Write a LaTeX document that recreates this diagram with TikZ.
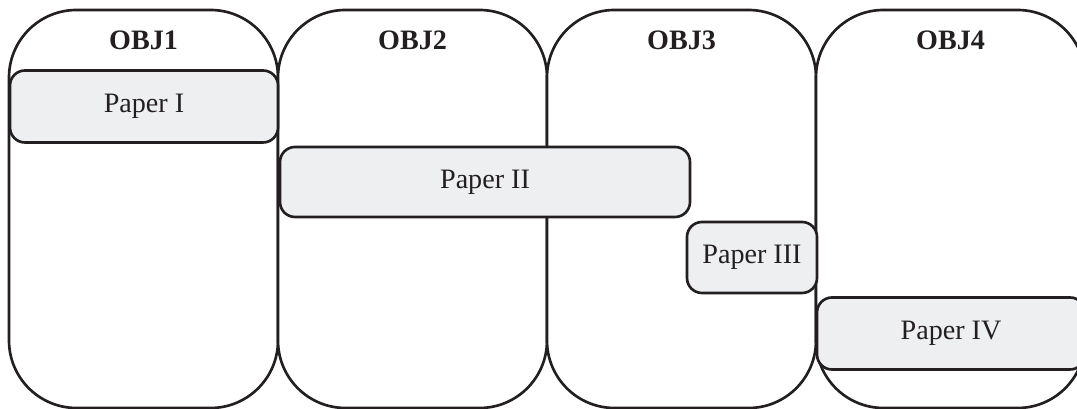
\documentclass[tikz,border=0pt]{standalone}
\usepackage{fontspec}
\setmainfont{Liberation Serif}
\usetikzlibrary{positioning}
\definecolor{inkline}{RGB}{35,31,32}
\definecolor{paperfill}{RGB}{238,239,241}

\tikzset{
  objcol/.style={draw=inkline,line width=1.5pt,rounded corners=1.35cm,
    minimum width=5.38cm,minimum height=7.96cm,outer sep=0pt,fill=white},
  objtitle/.style={font=\fontsize{16}{18}\selectfont\bfseries,text=inkline},
  paperbox/.style={draw=inkline,line width=1.5pt,rounded corners=0.3cm,
    fill=paperfill,minimum height=1.44cm,outer sep=0pt,inner sep=2pt,
    font=\fontsize{16}{18}\selectfont,text=inkline}
}

\begin{document}
\begin{tikzpicture}
  \useasboundingbox (0,0) rectangle (21.54,8.18);
  % objective columns
  \node[objcol] (col1) at (2.87,4.0) {};
  \node[objcol,right=0pt of col1] (col2) {};
  \node[objcol,right=0pt of col2] (col3) {};
  \node[objcol,right=0pt of col3] (col4) {};

  \node[objtitle] (obj1) at (2.87,7.38) {OBJ1};
  \node[objtitle] (obj2) at (8.25,7.38) {OBJ2};
  \node[objtitle] (obj3) at (13.63,7.38) {OBJ3};
  \node[objtitle] (obj4) at (19.01,7.38) {OBJ4};

  % papers
  \node[paperbox,minimum width=5.36cm] (p1) at (2.88,6.05) {Paper I};
  \node[paperbox,minimum width=8.2cm,minimum height=1.4cm] (p2) at (9.7,4.54) {Paper II};
  \node[paperbox,minimum width=2.6cm,minimum height=1.42cm] (p3) at (15.04,3.03) {Paper III};
  \node[paperbox,minimum width=5.36cm] (p4) at (19.02,1.51) {Paper IV};
\end{tikzpicture}
\end{document}
